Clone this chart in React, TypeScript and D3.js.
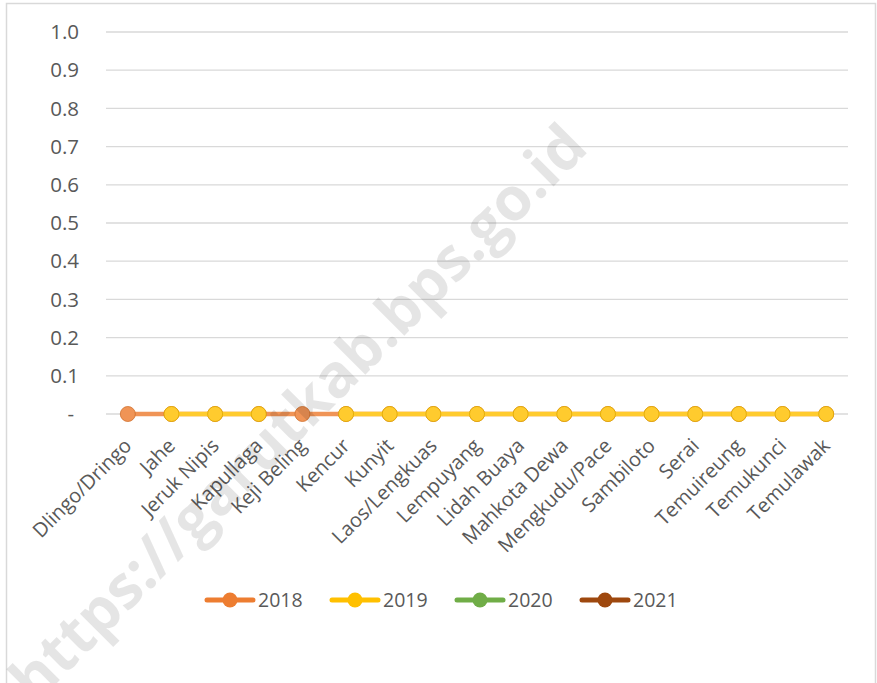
import React, { useEffect, useRef } from 'react';
import * as d3 from 'd3';

const categories = [
  'Dlingo/Dringo', 'Jahe', 'Jeruk Nipis', 'Kapullaga', 'Keji Beling', 'Kencur',
  'Kunyit', 'Laos/Lengkuas', 'Lempuyang', 'Lidah Buaya', 'Mahkota Dewa',
  'Mengkudu/Pace', 'Sambiloto', 'Serai', 'Temuireung', 'Temukunci', 'Temulawak'
];
const years = ['2018', '2019', '2020', '2021'];
const v2018 = [0, 0, 0, 0, 0, 0, 0, 0, 0, 0, 0, 0, 0, 0, 0, 0, 0];
const v2019 = [null, 0, 0, 0, null, 0, 0, 0, 0, 0, 0, 0, 0, 0, 0, 0, 0];
const v2020 = [null, null, null, null, null, null, null, null, null, null, null, null, null, null, null, null, null];
const v2021 = [null, null, null, null, null, null, null, null, null, null, null, null, null, null, null, null, null];
const yTicks = [0, 0.1, 0.2, 0.3, 0.4, 0.5, 0.6, 0.7, 0.8, 0.9, 1.0];
const yTickLabels = ['-', '0.1', '0.2', '0.3', '0.4', '0.5', '0.6', '0.7', '0.8', '0.9', '1.0'];
const colors = ['#ED7D31', '#FFC000', '#70AD47', '#9E480E'];

const WATERMARK = 'https://garutkab.bps.go.id';

export default function App() {
  const ref = useRef<SVGSVGElement>(null);

  useEffect(() => {
    const width = 877;
    const height = 683;
    const font = "'Open Sans', 'Noto Sans', sans-serif";
    const textColor = '#595959';
    const series = [v2018, v2019, v2020, v2021];

    const svg = d3.select(ref.current);
    svg.selectAll('*').remove();
    svg.attr('width', width).attr('height', height);

    svg.append('rect')
      .attr('x', 0).attr('y', 0).attr('width', width).attr('height', height)
      .attr('fill', '#fff');
    svg.append('rect')
      .attr('x', 6.5).attr('y', 3.5).attr('width', 869).attr('height', 700)
      .attr('fill', 'none').attr('stroke', '#D9D9D9').attr('stroke-width', 1.5);

    const x = d3.scaleBand().domain(categories).range([106, 848]);
    const y = d3.scaleLinear().domain([0, 1]).range([414, 32]);
    const cx = (c: string) => (x(c) as number) + x.bandwidth() / 2;

    // grid
    svg.append('g').selectAll('line')
      .data(yTicks)
      .enter()
      .append('line')
      .attr('x1', 106).attr('x2', 848)
      .attr('y1', d => y(d)).attr('y2', d => y(d))
      .attr('stroke', '#D9D9D9').attr('stroke-width', 1.3);

    // y labels
    svg.append('g').selectAll('text')
      .data(yTicks)
      .enter()
      .append('text')
      .attr('x', (d, i) => yTickLabels[i] === '-' ? 74 : 79)
      .attr('y', d => y(d))
      .attr('dy', '0.35em')
      .attr('text-anchor', 'end')
      .attr('font-family', font)
      .attr('font-size', 20.5)
      .attr('fill', textColor)
      .text((d, i) => yTickLabels[i]);

    // x labels
    svg.append('g').selectAll('text')
      .data(categories)
      .enter()
      .append('text')
      .attr('transform', d => `translate(${cx(d) + 5},447) rotate(-45)`)
      .attr('text-anchor', 'end')
      .attr('font-family', font)
      .attr('font-size', 20)
      .attr('fill', textColor)
      .text(d => d);

    // series
    const line = d3.line<number | null>()
      .defined(d => d !== null)
      .x((d, i) => cx(categories[i]))
      .y(d => y(d as number));

    series.forEach((vals, s) => {
      const plotColor = d3.interpolateRgb(colors[s], '#fff')(0.18);
      const edge = d3.interpolateRgb(colors[s], '#000')(0.12);
      const g = svg.append('g');
      g.append('path')
        .datum(vals)
        .attr('d', line)
        .attr('fill', 'none')
        .attr('stroke', plotColor)
        .attr('stroke-width', 4.7)
        .attr('stroke-linejoin', 'round');
      g.selectAll('circle')
        .data(vals.map((v, i) => ({ v, c: categories[i] })).filter(d => d.v !== null))
        .enter()
        .append('circle')
        .attr('cx', d => cx(d.c))
        .attr('cy', d => y(d.v as number))
        .attr('r', 7.5)
        .attr('fill', plotColor)
        .attr('stroke', edge)
        .attr('stroke-width', 0.8);
    });

    // legend
    const legend = svg.append('g').attr('transform', 'translate(205,600)');
    years.forEach((yr, i) => {
      const item = legend.append('g').attr('transform', `translate(${i * 125},0)`);
      item.append('line')
        .attr('x1', 2).attr('x2', 48).attr('y1', 0).attr('y2', 0)
        .attr('stroke', colors[i]).attr('stroke-width', 5).attr('stroke-linecap', 'round');
      item.append('circle')
        .attr('cx', 25).attr('cy', 0).attr('r', 7.5).attr('fill', colors[i]);
      item.append('text')
        .attr('x', 53).attr('y', 0).attr('dy', '0.35em')
        .attr('font-family', font).attr('font-size', 19.5)
        .attr('fill', textColor)
        .text(yr);
    });

    // watermark
    svg.append('text')
      .attr('transform', 'translate(590,150) rotate(-45)')
      .attr('text-anchor', 'end')
      .attr('font-family', font)
      .attr('font-weight', 'bold')
      .attr('font-size', 60)
      .attr('fill', '#000')
      .attr('fill-opacity', 0.1)
      .text(WATERMARK);
  }, []);

  return (
    <div style={{ position: 'absolute', left: 0, top: 0 }}>
      <svg ref={ref} style={{ display: 'block' }}></svg>
    </div>
  );
}
